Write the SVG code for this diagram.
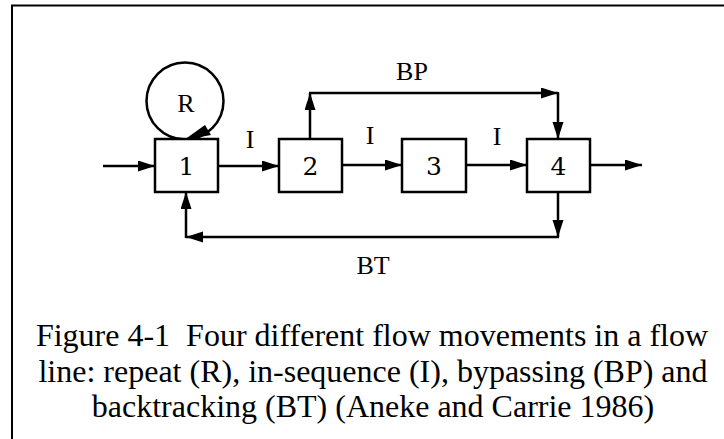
<svg xmlns="http://www.w3.org/2000/svg" width="724" height="439" viewBox="0 0 724 439">
  <defs>
    <marker id="ah" markerUnits="userSpaceOnUse" markerWidth="18" markerHeight="12" refX="17" refY="5.5" orient="auto">
      <path d="M0,0 L17,5.5 L0,11 z" fill="#000"/>
    </marker>
    <style>
      .box { fill: #fff; stroke: #000; stroke-width: 2.5; }
      .conn { fill: none; stroke: #000; stroke-width: 2.5; marker-end: url(#ah); }
      .seg { fill: none; stroke: #000; stroke-width: 2.5; }
      .lbl { font-family: "Liberation Serif", "Times New Roman", serif; font-size: 26px; fill: #000; text-anchor: middle; }
      .num { font-family: "DejaVu Serif", "Liberation Serif", serif; font-size: 25px; fill: #000; text-anchor: middle; }
      .cap { font-family: "Liberation Serif", "Times New Roman", serif; font-size: 32px; fill: #000; text-anchor: middle; }
      .frame { fill: none; stroke: #000; stroke-width: 2; }
    </style>
  </defs>
  <rect width="724" height="439" fill="#fff"/>
  <path class="frame" d="M12,439 V5.5 H724"/>

  <g id="connectors">
    <path class="conn" d="M103,166 H155"/>
    <path class="conn" d="M218,166 H279"/>
    <path class="conn" d="M342,165 H402"/>
    <path class="conn" d="M466,165 H527"/>
    <path class="conn" d="M590,165 H642"/>
    <path class="conn" d="M310,139 V93"/>
    <path class="conn" d="M309,93 H558"/>
    <path class="conn" d="M558,92 V139"/>
    <path class="conn" d="M558,192 V237"/>
    <path class="conn" d="M559,237 H186"/>
    <path class="conn" d="M186,238 V192"/>
  </g>

  <g id="repeat-loop">
    <circle class="seg" cx="185" cy="101" r="38.5"/>
    <polygon points="184,140 205,125 211,135" fill="#000"/>
  </g>

  <g id="node1">
    <rect class="box" x="155" y="139" width="63" height="53"/>
    <text class="num" x="186.5" y="175">1</text>
  </g>
  <g id="node2">
    <rect class="box" x="279" y="139" width="63" height="53"/>
    <text class="num" x="310.5" y="175">2</text>
  </g>
  <g id="node3">
    <rect class="box" x="402" y="139" width="64" height="53"/>
    <text class="num" x="434" y="175">3</text>
  </g>
  <g id="node4">
    <rect class="box" x="527" y="139" width="63" height="53"/>
    <text class="num" x="558.5" y="175">4</text>
  </g>

  <g id="labels">
    <text class="lbl" x="186" y="112">R</text>
    <text class="lbl" x="250" y="148">I</text>
    <text class="lbl" x="370" y="144">I</text>
    <text class="lbl" x="497" y="145">I</text>
    <text class="lbl" x="412" y="80">BP</text>
    <text class="lbl" x="373" y="274">BT</text>
  </g>

  <g id="caption">
    <text class="cap" x="372" y="346" xml:space="preserve">Figure 4-1  Four different flow movements in a flow</text>
    <text class="cap" x="373" y="382">line: repeat (R), in-sequence (I), bypassing (BP) and</text>
    <text class="cap" x="373" y="417">backtracking (BT) (Aneke and Carrie 1986)</text>
  </g>
</svg>
